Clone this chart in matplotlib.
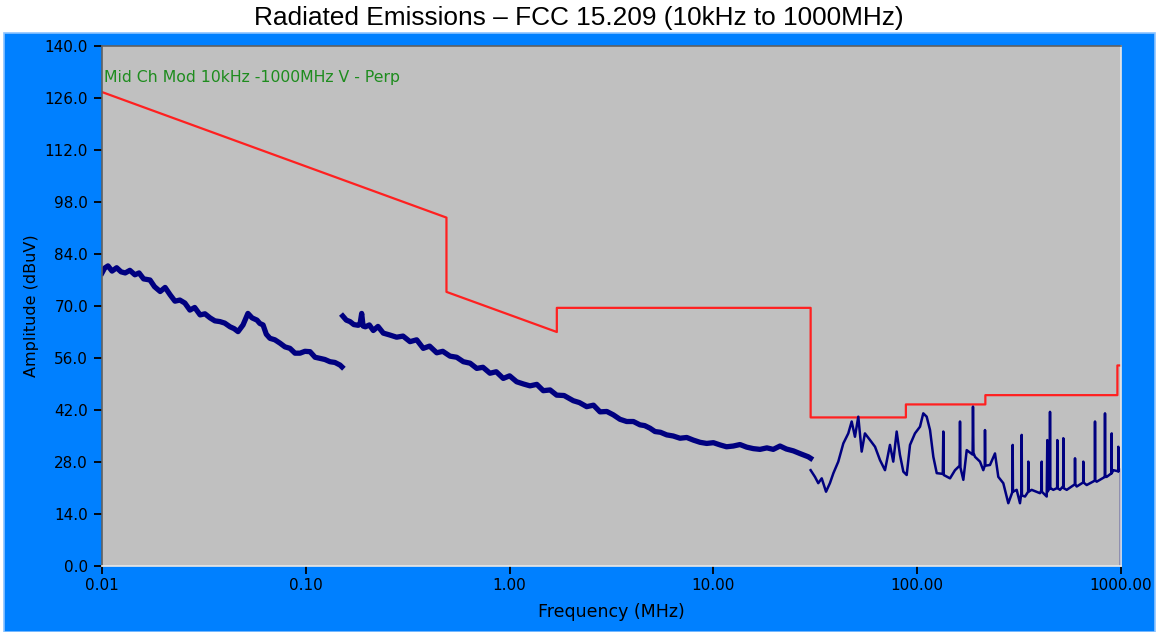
import matplotlib
matplotlib.use("Agg")
import matplotlib.pyplot as plt
from matplotlib.patches import Rectangle

# FCC 15.209 limit line (MHz, dBuV)
limit_freq = [0.01, 0.49, 0.49, 1.705, 1.705, 30, 30, 88, 88, 216, 216, 960, 960, 1000]
limit_level = [127.6, 93.8, 73.8, 63.0, 69.5, 69.5, 40.0, 40.0, 43.5, 43.5, 46.0, 46.0, 54.0, 54.0]

# scan 1: 10kHz - 150kHz
seg1_freq = [0.0100, 0.0103, 0.0107, 0.0112, 0.0118, 0.0124, 0.0130, 0.0137, 0.0145, 0.0152,
             0.0160, 0.0172, 0.0181, 0.0193, 0.0204, 0.0216, 0.0228, 0.0241, 0.0255, 0.0270,
             0.0285, 0.0303, 0.0320, 0.0339, 0.0358, 0.0379, 0.0400, 0.0425, 0.0445, 0.0465,
             0.0492, 0.0520, 0.0545, 0.0576, 0.0595, 0.0617, 0.0640, 0.0667, 0.0705, 0.0747,
             0.0790, 0.0836, 0.0885, 0.0937, 0.0990, 0.1049, 0.1110, 0.1174, 0.1240, 0.1314,
             0.1390, 0.1472, 0.1505]
seg1_level = [78.9, 80.2, 80.8, 79.4, 80.3, 79.2, 78.9, 79.6, 78.4, 78.9,
              77.3, 77.0, 75.2, 73.9, 75.0, 73.0, 71.3, 71.6, 70.8, 68.9,
              69.6, 67.6, 67.9, 66.8, 66.0, 65.8, 65.4, 64.4, 63.9, 63.1,
              64.9, 68.0, 66.8, 66.2, 65.3, 64.9, 62.4, 61.3, 60.9, 60.0,
              59.0, 58.6, 57.3, 57.3, 57.8, 57.7, 56.2, 55.9, 55.6, 55.0,
              54.8, 54.1, 53.6]

# scan 2: 150kHz - 30MHz
seg2_freq = [0.1518, 0.158, 0.1648, 0.172, 0.181, 0.185, 0.188, 0.191, 0.196, 0.205,
             0.2144, 0.226, 0.240, 0.258, 0.279, 0.300, 0.3245, 0.350, 0.377, 0.405,
             0.439, 0.470, 0.510, 0.550, 0.593, 0.640, 0.690, 0.740, 0.801, 0.860,
             0.931, 1.00, 1.083, 1.17, 1.259, 1.36, 1.463, 1.58, 1.702, 1.85,
             2.054, 2.20, 2.389, 2.58, 2.777, 3.00, 3.227, 3.48, 3.754, 4.05,
             4.363, 4.60, 4.886, 5.169, 5.50, 5.900, 6.35, 6.857, 7.40, 7.969,
             8.60, 9.270, 10.0, 10.78, 11.6, 12.52, 13.5, 14.57, 15.7, 16.93,
             18.3, 19.67, 21.22, 22.8, 24.67, 26.8, 29.22, 30.0]
seg2_level = [67.3, 66.2, 65.8, 65.0, 64.8, 65.5, 68.0, 64.6, 64.4, 64.9,
              63.4, 64.5, 62.7, 62.2, 61.6, 61.9, 60.4, 60.9, 58.6, 59.2,
              57.4, 57.8, 56.5, 56.2, 55.0, 54.6, 53.2, 53.5, 51.9, 52.3,
              50.5, 51.2, 49.6, 49.0, 48.5, 48.9, 47.2, 47.4, 46.0, 45.9,
              44.5, 44.0, 42.9, 43.3, 41.5, 41.6, 40.7, 39.5, 38.9, 38.9,
              38.0, 37.8, 37.1, 36.2, 36.0, 35.3, 35.0, 34.4, 34.6, 33.9,
              33.3, 33.0, 33.2, 32.6, 32.1, 32.3, 32.7, 32.0, 31.6, 31.4,
              31.8, 31.4, 32.3, 31.5, 31.0, 30.2, 29.4, 29.0]

# scan 3: 30MHz - 1000MHz
seg3_freq = [30.0, 31.5, 32.7, 34.0, 35.7, 37.3, 38.8, 41.0, 43.4, 45.9,
             47.7, 49.5, 51.4, 53.4, 55.4, 58.7, 62.1, 65.7, 69.5, 73.5,
             76.3, 79.3, 82.3, 85.5, 88.8, 92.2, 97.5, 103.2, 107.1, 111.3,
             115.6, 120.0, 124.7, 133.5, 134.3, 135.0, 144.9, 153.3, 161.5, 162.2,
             163.0, 168.4, 175.0, 187.0, 187.8, 188.8, 192.1, 203.3, 211.0, 214.5,
             215.1, 216.0, 227.6, 240.8, 250.0, 264.5, 279.9, 293.5, 294.1, 295.0,
             307.7, 319.4, 325.0, 325.6, 326.5, 338.0, 350.3, 350.9, 351.5, 364.6,
             400.5, 407.5, 408.3, 409.0, 432.0, 434.9, 436.0, 447.5, 448.4, 449.5,
             465.4, 486.0, 486.9, 488.0, 502.0, 520.5, 521.1, 522.0, 541.5, 594.0,
             594.8, 596.0, 606.3, 652.5, 653.1, 654.0, 678.7, 745.0, 745.5, 746.5,
             760.1, 834.0, 834.6, 835.5, 850.8, 900.0, 900.3, 901.0, 916.8, 969.5,
             969.8, 970.5, 988.8, 1000.0, 1000.0]
seg3_level = [25.8, 24.0, 22.3, 23.6, 20.0, 22.3, 25.0, 28.1, 33.0, 35.7,
              38.9, 34.8, 40.2, 30.8, 35.7, 33.9, 32.1, 28.5, 25.8, 32.6,
              28.1, 36.2, 29.9, 25.4, 24.5, 32.6, 35.7, 37.5, 41.1, 40.2,
              36.6, 29.4, 25.0, 24.8, 36.2, 24.5, 23.6, 25.8, 27.0, 38.9,
              26.5, 23.2, 31.2, 30.0, 42.9, 30.5, 29.4, 28.1, 25.8, 27.0,
              36.6, 27.0, 27.2, 30.3, 24.0, 22.3, 16.9, 20.0, 32.6, 20.0,
              20.5, 16.9, 20.0, 35.3, 19.0, 18.7, 20.0, 28.1, 20.0, 20.5,
              19.6, 20.5, 28.1, 20.0, 18.7, 33.9, 20.0, 21.0, 41.5, 21.0,
              20.5, 21.0, 33.9, 21.0, 20.5, 21.5, 34.4, 21.0, 20.5, 22.0,
              29.0, 22.0, 21.4, 22.5, 28.1, 22.5, 21.8, 23.0, 38.9, 23.0,
              22.7, 24.0, 41.1, 24.0, 24.0, 25.0, 35.7, 25.0, 25.8, 25.5,
              32.1, 25.5, 25.8, 26.0, 0.0]

y_ticks = [0, 14, 28, 42, 56, 70, 84, 98, 112, 126, 140]
x_ticks = [0.01, 0.1, 1, 10, 100, 1000]
x_tick_labels = ['0.01', '0.10', '1.00', '10.00', '100.00', '1000.00']

plt.rcParams['font.family'] = ['DejaVu Sans']

fig = plt.figure(figsize=(11.57, 6.32), dpi=100)
fig.patch.set_facecolor('white')

# blue panel behind the plot
fig.patches.append(Rectangle((4 / 1157, 0), 1151 / 1157, 599 / 632,
                             transform=fig.transFigure, facecolor='#0080FF',
                             edgecolor='#8CC4FF', linewidth=1.2, zorder=-5))

fig.text(0.5, 1 - 18 / 632, 'Radiated Emissions \u2013 FCC 15.209 (10kHz to 1000MHz)',
         ha='center', va='center', fontsize=18.9, family='Liberation Sans')

ax = fig.add_axes([102 / 1157, 66 / 632, 1019 / 1157, 520 / 632])
ax.set_zorder(1)
ax.set_facecolor('#C0C0C0')

ax.plot(limit_freq, limit_level, color='#FF2020', lw=1.6)
ax.plot(seg1_freq, seg1_level, color='#000080', lw=3.8)
ax.plot(seg2_freq, seg2_level, color='#000080', lw=3.8)
ax.plot(seg3_freq, seg3_level, color='#000080', lw=1.8)

ax.set_xscale('log')
ax.set_xlim(0.01, 1000)
ax.set_ylim(0, 140)
ax.set_xticks(x_ticks)
ax.set_xticklabels(x_tick_labels)
ax.xaxis.set_minor_locator(matplotlib.ticker.NullLocator())
ax.set_yticks(y_ticks)
ax.set_yticklabels(['%.1f' % v for v in y_ticks])
ax.tick_params(axis='both', labelsize=11, colors='black', length=6, width=1.3, pad=3)
ax.tick_params(axis='y', pad=4)

for side in ['top', 'left']:
    ax.spines[side].set_color('#606060')
for side in ['bottom', 'right']:
    ax.spines[side].set_color('#E8E8E8')
for side in ax.spines:
    ax.spines[side].set_linewidth(1.2)

ax.set_xlabel('Frequency (MHz)', fontsize=12.5, labelpad=7)
ax.set_ylabel('Amplitude (dBuV)', fontsize=11.5, labelpad=4)

ax.text(0.002, 0.94, 'Mid Ch Mod 10kHz -1000MHz V - Perp', transform=ax.transAxes,
        color='#1E8C1E', fontsize=11.3, ha='left', va='center')

fig.savefig('out.png', dpi=100, facecolor='white')
